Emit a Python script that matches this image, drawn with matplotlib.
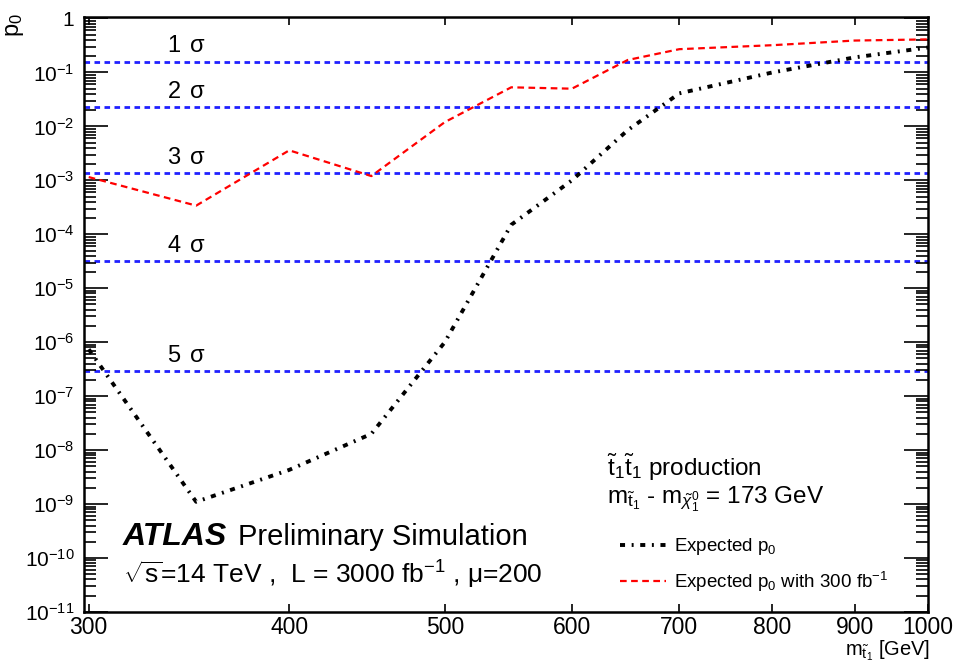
import numpy as np
import matplotlib
matplotlib.use('Agg')
import matplotlib.pyplot as plt
from matplotlib.ticker import FixedLocator, NullLocator, LogLocator, FuncFormatter, NullFormatter

plt.rcParams['font.family'] = ['Liberation Sans', 'DejaVu Sans']
plt.rcParams['mathtext.fontset'] = 'custom'
plt.rcParams['mathtext.rm'] = 'Liberation Sans'
plt.rcParams['mathtext.it'] = 'Liberation Sans:italic'
plt.rcParams['mathtext.bf'] = 'Liberation Sans:bold'

# stop mass [GeV]
masses = [300, 350, 400, 450, 500, 550, 600, 650, 700, 800, 900, 1000]
# expected p0, 3000 fb-1
p0_expected = [7.4e-7, 1.1e-9, 4.3e-9, 2.0e-8, 1.0e-6, 1.5e-4, 1.0e-3,
               8.5e-3, 0.041, 0.10, 0.19, 0.29]
# expected p0 with 300 fb-1
p0_300 = [1.15e-3, 3.4e-4, 3.6e-3, 1.2e-3, 0.012, 0.053, 0.050,
          0.17, 0.27, 0.32, 0.39, 0.41]

sigma_names = ['1', '2', '3', '4', '5']
sigma_p0 = [0.1587, 0.02275, 1.35e-3, 3.17e-5, 2.87e-7]

x_ticks = [300, 400, 500, 600, 700, 800, 900, 1000]
y_decades = [1e-11, 1e-10, 1e-9, 1e-8, 1e-7, 1e-6, 1e-5, 1e-4, 1e-3, 1e-2, 1e-1, 1]

fig = plt.figure(figsize=(9.55, 6.63), dpi=100)
ax = fig.add_axes([0.088, 0.077, 0.8837, 0.8975])

for name, p in zip(sigma_names, sigma_p0):
    ax.axhline(p, color='#2020ff', lw=2.0, linestyle=(0, (2.0, 1.6)), zorder=1)
    ax.annotate(name + r'$\,$ $\mathrm{\sigma}$', (345, p), xytext=(0, 3),
                textcoords='offset points', ha='center', va='bottom', fontsize=17)

ax.plot(masses, p0_expected, color='black', lw=2.8,
        linestyle=(0, (1.3, 1.7, 0.5, 1.7)), label='Expected p$_0$', zorder=3)
ax.plot(masses, p0_300, color='red', lw=1.6,
        linestyle=(0, (3.0, 2.0)), label='Expected p$_0$ with 300 fb$^{-1}$', zorder=3)

ax.set_xscale('log')
ax.set_yscale('log')
ax.set_xlim(298, 1000)
ax.set_ylim(1e-11, 1.07)

ax.xaxis.set_major_locator(FixedLocator(x_ticks))
ax.xaxis.set_minor_locator(NullLocator())
ax.xaxis.set_major_formatter(FuncFormatter(lambda v, pos: '%d' % v))
ax.yaxis.set_major_locator(FixedLocator(y_decades))
ax.yaxis.set_minor_locator(LogLocator(base=10, subs=np.arange(2, 10), numticks=20))
ax.yaxis.set_minor_formatter(NullFormatter())


def yfmt(v, pos):
    e = int(round(np.log10(v)))
    if e == 0:
        return '1'
    return r'$10^{%d}$' % e


ax.yaxis.set_major_formatter(FuncFormatter(yfmt))

ax.tick_params(axis='both', which='both', direction='in', top=True, right=True,
               width=1.2)
ax.tick_params(axis='y', which='major', length=17, labelsize=15, pad=7)
ax.tick_params(axis='y', which='minor', length=8.5)
ax.tick_params(axis='x', which='major', length=6, pad=3, labelsize=16.5)
for s in ax.spines.values():
    s.set_linewidth(1.8)

fig.text(0.016, 0.98, 'p$_0$', rotation=90, fontsize=17, ha='center', va='top')
fig.text(0.974, 0.0, r'm$_{\tilde{\mathrm{t}}_1}$ [GeV]', fontsize=14.5,
         ha='right', va='bottom')

ax.text(0.046, 0.126, 'ATLAS', transform=ax.transAxes, fontsize=23,
        fontweight='bold', fontstyle='italic', va='center')
ax.text(0.183, 0.126, 'Preliminary Simulation', transform=ax.transAxes,
        fontsize=21, va='center')
ax.text(0.046, 0.062, r'$\sqrt{\mathrm{s}}$=14 TeV ,  L = 3000 fb$^{-1}$ , $\mathrm{\mu}$=200',
        transform=ax.transAxes, fontsize=19, va='center')

ax.text(0.62, 0.243, r'$\tilde{\mathrm{t}}_1\tilde{\mathrm{t}}_1$ production',
        transform=ax.transAxes, fontsize=17.5, va='center')
ax.text(0.62, 0.19, r'm$_{\tilde{\mathrm{t}}_1}$ - m$_{\tilde{\chi}^0_1}$ = 173 GeV',
        transform=ax.transAxes, fontsize=17.5, va='center')

ax.legend(loc='upper left', bbox_to_anchor=(0.635, 0.127), frameon=False,
          fontsize=13.5, handlelength=2.45, handletextpad=0.45,
          labelspacing=0.65, borderaxespad=0, borderpad=0)

fig.savefig('out.png', dpi=100)
